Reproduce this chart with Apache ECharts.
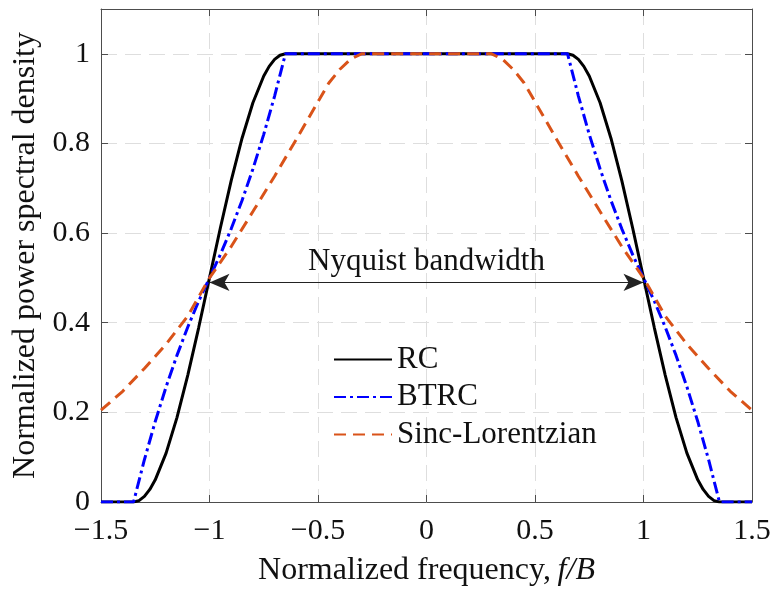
<!DOCTYPE html>
<html>
<head>
<meta charset="utf-8">
<script src="https://cdn.jsdelivr.net/npm/echarts@6/dist/echarts.min.js"></script>
<style>html,body{margin:0;padding:0;background:#fff}#c{width:774px;height:592px}</style>
</head>
<body>
<div id="c"></div>
<script>
// ---- data ----
const rcX   = [-1.5,-1.35,-1.325,-1.3,-1.275,-1.25,-1.2,-1.15,-1.1,-1.05,-1.0,-0.95,-0.9,-0.85,-0.8,-0.75,-0.725,-0.7,-0.675,-0.65,
               0.65,0.675,0.7,0.725,0.75,0.8,0.85,0.9,0.95,1.0,1.05,1.1,1.15,1.2,1.25,1.275,1.3,1.325,1.35,1.5];
const rcY   = [0,0,0.0031,0.0125,0.0280,0.0495,0.1091,0.1883,0.2831,0.3887,0.5,0.6113,0.7169,0.8117,0.8909,0.9505,0.9720,0.9875,0.9969,1,
               1,0.9969,0.9875,0.9720,0.9505,0.8909,0.8117,0.7169,0.6113,0.5,0.3887,0.2831,0.1883,0.1091,0.0495,0.0280,0.0125,0.0031,0,0];
const btrcX = [-1.5,-1.35,-1.3,-1.25,-1.2,-1.15,-1.1,-1.05,-1.0,-0.95,-0.9,-0.85,-0.8,-0.75,-0.7,-0.65,
               0.65,0.7,0.75,0.8,0.85,0.9,0.95,1.0,1.05,1.1,1.15,1.2,1.25,1.3,1.35,1.5];
const btrcY = [0,0,0.0943,0.1797,0.2570,0.3271,0.3905,0.4480,0.5,0.5520,0.6095,0.6729,0.7430,0.8203,0.9057,1,
               1,0.9057,0.8203,0.7430,0.6729,0.6095,0.5520,0.5,0.4480,0.3905,0.3271,0.2570,0.1797,0.0943,0,0];
const slX   = [-1.5,-1.4,-1.3,-1.2,-1.1,-1.0,-0.9,-0.8,-0.7,-0.6,-0.5,-0.45,-0.4,-0.35,-0.3,
               0.3,0.35,0.4,0.45,0.5,0.6,0.7,0.8,0.9,1.0,1.1,1.2,1.3,1.4,1.5];
const slY   = [0.205,0.247,0.298,0.352,0.415,0.5,0.57,0.648,0.727,0.809,0.893,0.935,0.965,0.988,1.0,
               1.0,0.988,0.965,0.935,0.893,0.809,0.727,0.648,0.57,0.5,0.415,0.352,0.298,0.247,0.205];
const seriesNames = ['RC','BTRC','Sinc-Lorentzian'];
const xTickLabels = ['\u22121.5','\u22121','\u22120.5','0','0.5','1','1.5'];
const yTickLabels = ['0','0.2','0.4','0.6','0.8','1'];
const arrowX = [-1, 1];
const arrowY = 0.49;
const annotationText = 'Nyquist bandwidth';

const FONT = 'Liberation Serif';
const zip = (xs, ys) => xs.map((x, i) => [x, ys[i]]);
const axisColor = '#4d4d4d';

const chart = echarts.init(document.getElementById('c'), null, {renderer: 'canvas'});
const commonX = {
  type: 'value', min: -1.5, max: 1.5, interval: 0.5,
  axisLine: {show: true, onZero: false, lineStyle: {color: axisColor, width: 1}},
  axisTick: {show: true, inside: true, length: 7, lineStyle: {color: axisColor}},
};
const commonY = {
  type: 'value', min: 0, max: 1.1, interval: 0.2,
  axisLine: {show: true, onZero: false, lineStyle: {color: axisColor, width: 1}},
  axisTick: {show: true, inside: true, length: 7, lineStyle: {color: axisColor}},
};
chart.setOption({
  animation: false,
  backgroundColor: '#fff',
  grid: {left: 101, right: 22, top: 9, bottom: 88, containLabel: false},
  xAxis: [
    Object.assign({}, commonX, {
      position: 'bottom',
      axisLabel: {show: true, margin: 14, fontFamily: FONT, fontSize: 30, lineHeight: 30, color: '#111',
        formatter: v => xTickLabels[Math.round((v + 1.5) / 0.5)]},
      splitLine: {show: true, lineStyle: {color: '#dedede', width: 1, type: [16, 8]}},
      name: '{a|Normalized frequency,}  {b|f/B}',
      nameLocation: 'middle', nameGap: 53,
      nameTextStyle: {rich: {
        a: {fontFamily: FONT, fontSize: 32, color: '#111'},
        b: {fontFamily: FONT, fontSize: 32, fontStyle: 'italic', color: '#111'}
      }}
    }),
    Object.assign({}, commonX, {
      position: 'top', axisLabel: {show: false}, splitLine: {show: false}
    })
  ],
  yAxis: [
    Object.assign({}, commonY, {
      position: 'left',
      axisLabel: {show: true, margin: 11, fontFamily: FONT, fontSize: 30, color: '#111',
        formatter: v => { const i = Math.round(v / 0.2); return v > 1.05 ? '' : yTickLabels[i]; }},
      splitLine: {show: true, lineStyle: {color: '#dedede', width: 1, type: [16, 8]}},
      name: 'Normalized power spectral density',
      nameLocation: 'middle', nameGap: 57, nameRotate: 90,
      nameTextStyle: {fontFamily: FONT, fontSize: 32, color: '#111'}
    }),
    Object.assign({}, commonY, {
      position: 'right', axisLabel: {show: false}, splitLine: {show: false}
    })
  ],
  legend: {
    orient: 'vertical', left: 328, top: 339,
    data: seriesNames,
    itemWidth: 58, itemHeight: 14, itemGap: 6.5,
    itemStyle: {opacity: 0},
    textStyle: {fontFamily: FONT, fontSize: 31, lineHeight: 31, color: '#111'}
  },
  series: [
    {
      name: seriesNames[0], type: 'line', data: zip(rcX, rcY), showSymbol: false, symbol: 'none',
      lineStyle: {color: '#000', width: 3}, itemStyle: {color: '#000'}
    },
    {
      name: seriesNames[1], type: 'line', data: zip(btrcX, btrcY), showSymbol: false, symbol: 'none',
      lineStyle: {color: '#0000ff', width: 3, type: [12, 4, 3, 4]}, itemStyle: {color: '#0000ff'}
    },
    {
      name: seriesNames[2], type: 'line', data: zip(slX, slY), showSymbol: false, symbol: 'none',
      lineStyle: {color: '#d95319', width: 3, type: [12, 7]}, itemStyle: {color: '#d95319'}
    },
    {
      name: 'annotation', type: 'line', data: [], silent: true,
      markLine: {
        silent: true, animation: false,
        symbol: ['arrow', 'arrow'], symbolSize: [13, 20],
        lineStyle: {color: '#222', width: 1, type: 'solid'},
        itemStyle: {color: '#000'},
        label: {show: true, position: 'middle', formatter: annotationText, distance: 5,
          fontFamily: FONT, fontSize: 31, color: '#111'},
        data: [[{coord: [arrowX[0], arrowY]}, {coord: [arrowX[1], arrowY]}]]
      }
    }
  ]
});
</script>
</body>
</html>
